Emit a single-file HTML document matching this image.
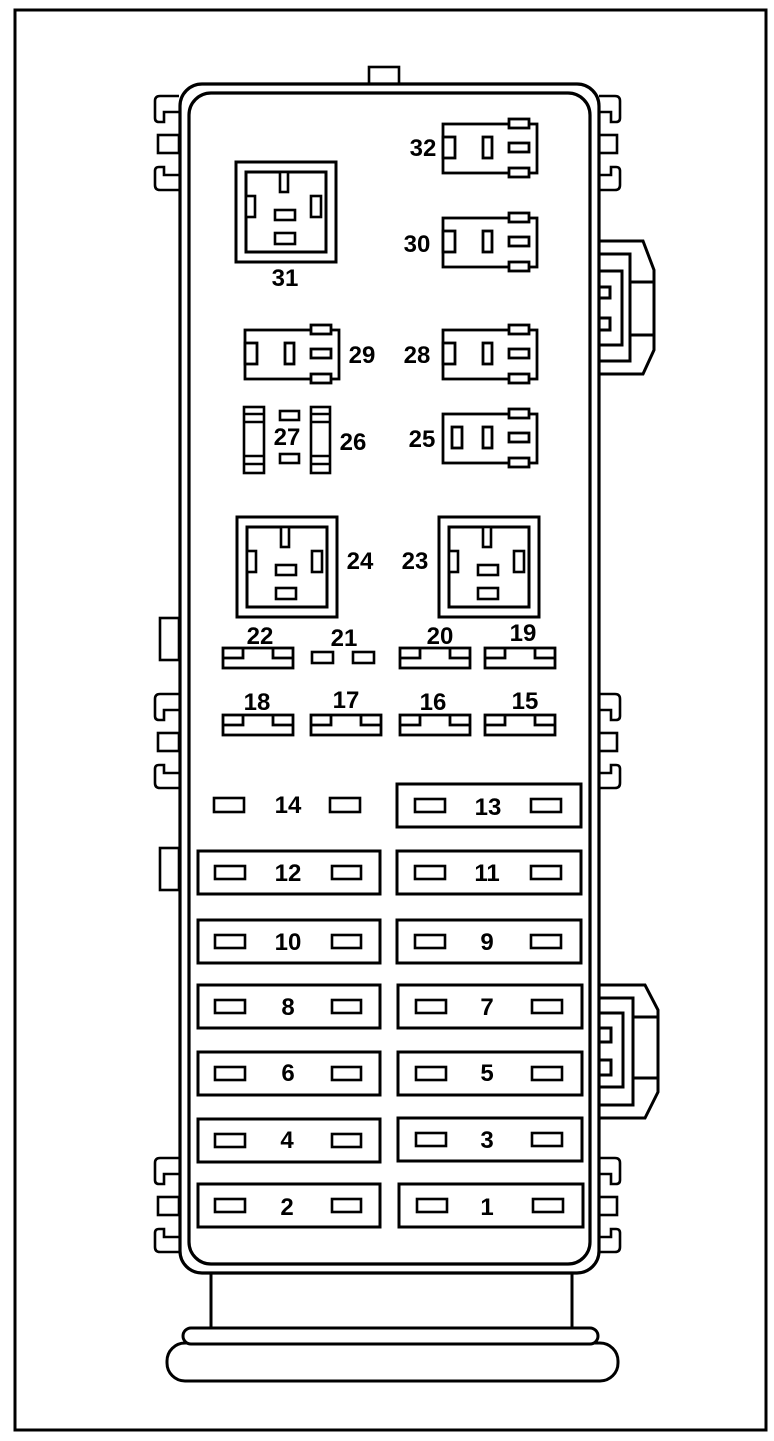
<!DOCTYPE html>
<html><head><meta charset="utf-8"><style>
html,body{margin:0;padding:0;background:#fff;}
svg{display:block;}
text{font-family:"Liberation Sans",sans-serif;font-weight:bold;font-size:24px;fill:#000;text-anchor:middle;}
</style></head><body>
<svg width="774" height="1441" viewBox="0 0 774 1441" xmlns="http://www.w3.org/2000/svg">
<defs>
<g id="srelay" fill="#fff" stroke="#000" stroke-width="2.8">
<rect x="0" y="0" width="94" height="49"/>
<rect x="66" y="-5" width="20" height="9"/>
<rect x="66" y="44" width="20" height="9"/>
<rect x="66" y="19" width="20" height="9"/>
<rect x="40" y="13" width="9" height="21"/>
</g>
<g id="brelay" fill="#fff" stroke="#000" stroke-width="3">
<rect x="0" y="0" width="100" height="100"/>
<rect x="10" y="10" width="80" height="80"/>
<rect x="44" y="10" width="8" height="20" stroke-width="2.6"/>
<rect x="10" y="34" width="9" height="21" stroke-width="2.6"/>
<rect x="75" y="34" width="10" height="21" stroke-width="2.6"/>
<rect x="39" y="48" width="20" height="10" stroke-width="2.6"/>
<rect x="39" y="71" width="20" height="11" stroke-width="2.6"/>
</g>
<g id="mfuse" fill="none" stroke="#000" stroke-width="2.8">
<rect x="0" y="0" width="70" height="20"/>
<path d="M20,0 V10 H0 M50,0 V10 H70"/>
</g>
<g id="fuseL" fill="#fff" stroke="#000" stroke-width="3">
<rect x="0" y="0" width="182" height="43"/>
<rect x="17" y="15" width="30" height="13" stroke-width="2.6"/>
<rect x="134" y="15" width="29" height="13" stroke-width="2.6"/>
</g>
<g id="fuseR" fill="#fff" stroke="#000" stroke-width="3">
<rect x="0" y="0" width="184" height="43"/>
<rect x="18" y="15" width="30" height="13" stroke-width="2.6"/>
<rect x="134" y="15" width="30" height="13" stroke-width="2.6"/>
</g>
<g id="clipsL" fill="#fff" stroke="#000" stroke-width="2.6">
<path d="M179,0 H160 Q155,0 155,5 V22 Q155,26 159,26 H164 V16 H179"/>
<rect x="158" y="39" width="21" height="18"/>
<path d="M179,94 H160 Q155,94 155,89 V75 Q155,71 159,71 H164 V79 H179"/>
</g>
<g id="clipsR" fill="#fff" stroke="#000" stroke-width="2.6">
<path d="M599,0 H615 Q620,0 620,5 V22 Q620,26 616,26 H611 V16 H599"/>
<rect x="599" y="39" width="18" height="18"/>
<path d="M599,94 H615 Q620,94 620,89 V75 Q620,71 616,71 H611 V79 H599"/>
</g>
</defs>

<rect x="15" y="10" width="751" height="1420" fill="none" stroke="#000" stroke-width="3"/>

<rect x="211" y="1268" width="361" height="62" fill="#fff" stroke="#000" stroke-width="3"/>
<rect x="167" y="1343" width="451" height="38" rx="18" fill="#fff" stroke="#000" stroke-width="3"/>
<rect x="183" y="1328" width="415" height="16" rx="8" fill="#fff" stroke="#000" stroke-width="3"/>

<rect x="369" y="67" width="30" height="20" fill="#fff" stroke="#000" stroke-width="2.6"/>

<use href="#clipsL" transform="translate(0,96)"/>
<use href="#clipsR" transform="translate(0,96)"/>
<use href="#clipsL" transform="translate(0,694)"/>
<use href="#clipsR" transform="translate(0,694)"/>
<use href="#clipsL" transform="translate(0,1158)"/>
<use href="#clipsR" transform="translate(0,1158)"/>
<rect x="160" y="618" width="19" height="42" fill="#fff" stroke="#000" stroke-width="2.6"/>
<rect x="160" y="848" width="19" height="42" fill="#fff" stroke="#000" stroke-width="2.6"/>

<g fill="#fff" stroke="#000" stroke-width="3">
<path d="M598,241 H643 L654,270 V350 L643,374 H598"/>
<path d="M598,254 H630 V361 H598" fill="none"/>
<path d="M598,271 H622 V345 H598" fill="none"/>
<path d="M630,282 H654 M630,335 H654" fill="none"/>
<rect x="598" y="287" width="12" height="11"/>
<rect x="598" y="318" width="12" height="12"/>
<path d="M598,985 H645 L658,1010 V1092 L645,1118 H598"/>
<path d="M598,998 H633 V1105 H598" fill="none"/>
<path d="M598,1013 H623 V1087 H598" fill="none"/>
<path d="M633,1017 H658 M633,1078 H658" fill="none"/>
<rect x="598" y="1028" width="13" height="14"/>
<rect x="598" y="1060" width="13" height="15"/>
</g>

<rect x="180" y="84" width="419" height="1189" rx="22" fill="#fff" stroke="#000" stroke-width="3.2"/>
<rect x="189" y="93" width="401" height="1171" rx="22" fill="none" stroke="#000" stroke-width="3.2"/>

<use href="#srelay" transform="translate(443,124)"/>
<rect x="443" y="137" width="12" height="21" fill="#fff" stroke="#000" stroke-width="2.8"/>
<text x="423" y="156">32</text>
<use href="#srelay" transform="translate(443,218)"/>
<rect x="443" y="231" width="12" height="21" fill="#fff" stroke="#000" stroke-width="2.8"/>
<text x="417" y="252">30</text>
<use href="#srelay" transform="translate(443,330)"/>
<rect x="443" y="343" width="12" height="21" fill="#fff" stroke="#000" stroke-width="2.8"/>
<text x="417" y="363">28</text>
<use href="#srelay" transform="translate(245,330)"/>
<rect x="245" y="343" width="12" height="21" fill="#fff" stroke="#000" stroke-width="2.8"/>
<text x="362" y="363">29</text>
<use href="#srelay" transform="translate(443,414)"/>
<rect x="452" y="427" width="10" height="21" fill="#fff" stroke="#000" stroke-width="2.8"/>
<text x="422" y="447">25</text>

<use href="#brelay" transform="translate(236,162)"/>
<text x="285" y="286">31</text>
<use href="#brelay" transform="translate(237,517)"/>
<text x="360" y="569">24</text>
<use href="#brelay" transform="translate(439,517)"/>
<text x="415" y="569">23</text>

<g fill="#fff" stroke="#000" stroke-width="2.6">
<rect x="244" y="407" width="20" height="66"/>
<path d="M244,414 H264 M244,422 H264 M244,456 H264 M244,464 H264"/>
<rect x="311" y="407" width="19" height="66"/>
<path d="M311,414 H330 M311,422 H330 M311,456 H330 M311,464 H330"/>
<rect x="280" y="411" width="19" height="9"/>
<rect x="280" y="454" width="19" height="9"/>
</g>
<text x="287" y="445">27</text>
<text x="353" y="450">26</text>

<use href="#mfuse" transform="translate(223,648)"/>
<text x="260" y="644">22</text>
<rect x="312" y="652" width="21" height="11" fill="#fff" stroke="#000" stroke-width="2.6"/>
<rect x="353" y="652" width="21" height="11" fill="#fff" stroke="#000" stroke-width="2.6"/>
<text x="344" y="646">21</text>
<use href="#mfuse" transform="translate(400,648)"/>
<text x="440" y="644">20</text>
<use href="#mfuse" transform="translate(485,648)"/>
<text x="523" y="641">19</text>
<use href="#mfuse" transform="translate(223,715)"/>
<text x="257" y="710">18</text>
<use href="#mfuse" transform="translate(311,715)"/>
<text x="346" y="708">17</text>
<use href="#mfuse" transform="translate(400,715)"/>
<text x="433" y="710">16</text>
<use href="#mfuse" transform="translate(485,715)"/>
<text x="525" y="709">15</text>

<rect x="214" y="798" width="30" height="14" fill="#fff" stroke="#000" stroke-width="2.6"/>
<rect x="330" y="798" width="30" height="14" fill="#fff" stroke="#000" stroke-width="2.6"/>
<text x="288" y="813">14</text>
<use href="#fuseR" transform="translate(397,784)"/>
<text x="488" y="815">13</text>

<use href="#fuseL" transform="translate(198,851)"/>
<text x="288" y="881">12</text>
<use href="#fuseR" transform="translate(397,851)"/>
<text x="487" y="881">11</text>

<use href="#fuseL" transform="translate(198,920)"/>
<text x="288" y="950">10</text>
<use href="#fuseR" transform="translate(397,920)"/>
<text x="487" y="950">9</text>

<use href="#fuseL" transform="translate(198,985)"/>
<text x="288" y="1015">8</text>
<use href="#fuseR" transform="translate(398,985)"/>
<text x="487" y="1015">7</text>

<use href="#fuseL" transform="translate(198,1052)"/>
<text x="288" y="1081">6</text>
<use href="#fuseR" transform="translate(398,1052)"/>
<text x="487" y="1081">5</text>

<use href="#fuseL" transform="translate(198,1119)"/>
<text x="287" y="1148">4</text>
<use href="#fuseR" transform="translate(398,1118)"/>
<text x="487" y="1148">3</text>

<use href="#fuseL" transform="translate(198,1184)"/>
<text x="287" y="1215">2</text>
<use href="#fuseR" transform="translate(399,1184)"/>
<text x="487" y="1215">1</text>
</svg>
</body></html>
